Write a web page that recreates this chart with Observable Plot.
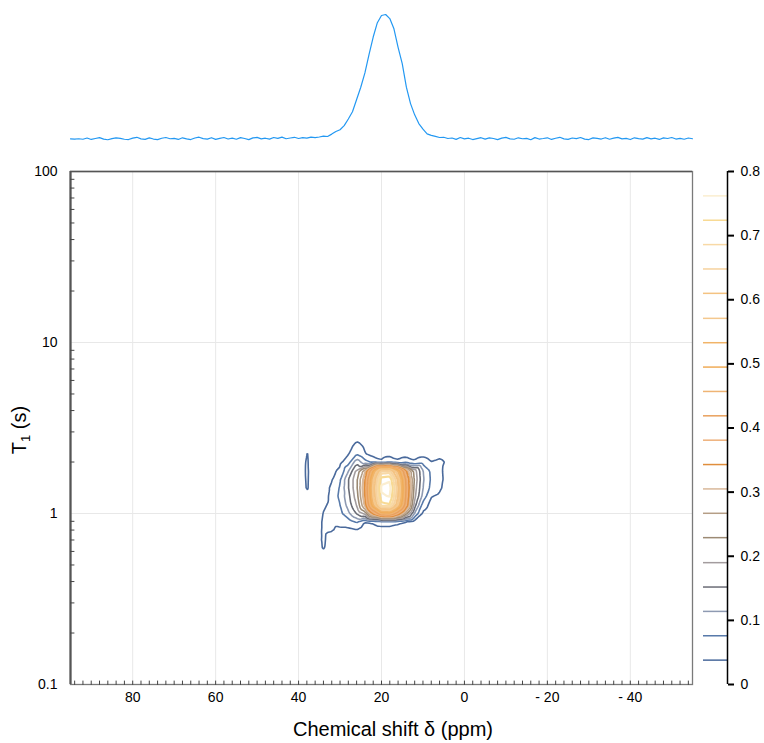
<!DOCTYPE html>
<html><head><meta charset="utf-8">
<script src="https://cdn.jsdelivr.net/npm/d3@7"></script>
<script src="https://cdn.jsdelivr.net/npm/@observablehq/plot@0.6"></script>
<style>
body{margin:0;background:#fff;}
#wrap{position:relative;width:764px;height:743px;background:#fff;overflow:hidden;}
#wrap svg{position:absolute;overflow:visible;max-width:none;background:transparent;}
</style></head><body><div id="wrap"></div>
<script>
// ---- Top 1D spectrum (intensity, arbitrary units; 1 ppm sampling from 95 to -55 ppm)
const specShift = d3.range(95, -56, -1);
const specIntensity = [
  1.6,1.4,1.7,1.2,2.4,1.0,1.9,2.8,1.3,0.7,1.8,2.6,2.1,1.2,0.9,2.3,3.1,1.6,1.1,2.5,
  1.4,0.8,2.2,2.9,1.7,2.0,1.0,2.6,1.5,0.9,2.4,3.2,1.8,1.3,2.7,1.1,2.0,2.9,1.4,2.3,
  1.2,2.8,1.9,0.8,2.5,3.0,1.6,2.2,1.3,2.9,2.0,3.3,1.7,2.4,3.1,1.9,2.7,2.3,3.2,2.8,
  3.4,4.3,3.9,6.2,8.8,10.5,14.5,21,28,40,52,66,84,101,115,122,123,119,109,91,
  75,52,36,25,16.5,11,6.5,5,4.0,2.9,3.1,1.9,
  2.4,1.1,2.9,1.6,2.2,0.9,1.8,2.7,1.3,2.5,1.9,0.8,2.3,3.0,1.5,1.2,2.6,1.7,2.1,0.7,
  2.8,1.4,1.9,2.6,1.0,2.2,3.1,1.6,1.1,2.4,1.8,2.9,1.3,0.9,2.5,2.0,1.4,2.7,1.2,2.3,
  3.0,1.5,2.1,0.9,2.6,1.8,1.3,2.8,1.6,2.2,1.0,2.5,1.9,2.9,1.4,2.0,1.2,2.4,1.7
];

// ---- 2D T1 map grid (columns: chemical shift in ppm, rows: T1 in s, top to bottom)
const gridShift = [40,38,36,34,32,30,28,26,24,22,20,18,16,14,12,10,8,6,4,2];
const gridT1 = [3.162,2.818,2.512,2.239,1.995,1.778,1.585,1.413,1.259,1.122,1.0,0.891,0.794,0.708,0.631,0.562,0.501];
const gridRows = [
  [0,0,0,0,0,0,0,0,0,0,0,0,0,0,0,0,0,0,0,0],
  [0,0,0,0,0,0,0.005,0.02,0.01,0,0,0,0,0,0,0,0,0,0,0],
  [0,0.01,0,0,0,0.005,0.02,0.05,0.03,0.01,0.005,0.005,0.005,0.005,0.005,0.005,0.005,0.005,0,0],
  [0,0.042,0,0,0.01,0.015,0.035,0.07,0.04,0.02,0.015,0.02,0.015,0.02,0.02,0.025,0.015,0.02,0.01,0],
  [0,0.045,0,0.005,0.02,0.03,0.06,0.14,0.09,0.07,0.05,0.075,0.05,0.065,0.045,0.06,0.04,0.05,0.03,0],
  [0,0.046,0.005,0.01,0.03,0.045,0.11,0.20,0.29,0.49,0.655,0.66,0.53,0.34,0.21,0.115,0.067,0.048,0.02,0],
  [0,0.045,0.005,0.015,0.035,0.07,0.15,0.22,0.33,0.56,0.745,0.755,0.60,0.39,0.22,0.12,0.07,0.05,0.022,0],
  [0,0.044,0.005,0.02,0.045,0.08,0.15,0.22,0.34,0.58,0.77,0.78,0.62,0.40,0.21,0.114,0.065,0.046,0.016,0],
  [0,0.03,0.005,0.02,0.05,0.085,0.14,0.21,0.333,0.57,0.755,0.765,0.61,0.39,0.20,0.10,0.04,0.03,0.01,0],
  [0,0.01,0.005,0.03,0.05,0.075,0.13,0.19,0.31,0.53,0.71,0.72,0.57,0.37,0.17,0.06,0.025,0.01,0,0],
  [0,0,0.005,0.04,0.048,0.065,0.105,0.155,0.20,0.35,0.46,0.47,0.37,0.24,0.11,0.03,0.01,0,0,0],
  [0,0,0.01,0.045,0.045,0.05,0.055,0.08,0.035,0.046,0.062,0.062,0.05,0.032,0.02,0.01,0,0,0,0],
  [0,0,0.015,0.045,0.04,0.03,0.03,0.035,0.01,0.012,0.015,0.015,0.012,0.008,0.005,0,0,0,0,0],
  [0,0,0.02,0.044,0.02,0,0,0,0,0,0,0,0,0,0,0,0,0,0,0],
  [0,0,0.015,0.042,0.01,0,0,0,0,0,0,0,0,0,0,0,0,0,0,0],
  [0,0,0,0.015,0,0,0,0,0,0,0,0,0,0,0,0,0,0,0,0],
  [0,0,0,0,0,0,0,0,0,0,0,0,0,0,0,0,0,0,0,0]
];

// ---- Contour levels and colours
const levels = [0.038,0.076,0.114,0.152,0.190,0.229,0.267,0.305,0.343,0.381,0.419,0.457,0.495,0.533,0.571,0.610,0.648,0.686,0.724,0.762];
const levelColors = ["#4a6a9c","#587aaa","#8e9ab2","#6a6c76","#a39c9e","#9c8a74","#b59e86","#d9b89a","#e08e3c","#eeb07a",
                     "#e9a05c","#efb474","#f0ac58","#f1b468","#f4c88e","#f4c382","#f6d29e","#f8d9a6","#f8da94","#fbeed0"];

// ---- Ticks
const xMajor = [80,60,40,20,0,-20,-40];
const xMinor = d3.range(-54, 96, 2);
const yMajor = [0.1,1,10,100];
const yMinor = [0.2,0.3,0.4,0.5,0.6,0.7,0.8,0.9,2,3,4,5,6,7,8,9,20,30,40,50,60,70,80,90];
const barTicks = [0,0.1,0.2,0.3,0.4,0.5,0.6,0.7,0.8];

const font = '"Liberation Sans", Arial, sans-serif';
const tickShape = {draw(context, l) { context.moveTo(0, 0); context.lineTo(0, -l); }};
const fmtShift = d => d < 0 ? "- " + Math.abs(d) : String(d);
const colorScale = {type: "linear", domain: levels, range: levelColors};

// grid samples as points (interpolated in screen space, so the log T1 axis is respected)
const gridPoints = gridRows.flatMap((row, i) => row.map((v, j) => ({shift: gridShift[j], t1: gridT1[i], v})));
const outerLevels = levels.slice(0, 7);
const innerLevels = levels.slice(7);

const wrap = document.getElementById("wrap");

// Top spectrum
const spec = Plot.plot({
  width: 764, height: 150, marginLeft: 70, marginRight: 72, marginTop: 14, marginBottom: 13,
  style: {fontFamily: font, background: "transparent"},
  x: {domain: [95, -55], axis: null},
  y: {domain: [2.9, 123], axis: null},
  marks: [
    Plot.line(specIntensity, {x: (d, i) => specShift[i], y: d => d, stroke: "#2398f2", strokeWidth: 1.2})
  ]
});
spec.style.left = "0px"; spec.style.top = "0px";
wrap.appendChild(spec);

// Main T1 map
const contourOpts = {x: "shift", y: "t1", value: "v", interpolate: "barycentric", stroke: "value", fill: "none"};
const main = Plot.plot({
  width: 700, height: 593, marginLeft: 70, marginRight: 8, marginTop: 21, marginBottom: 59,
  style: {fontFamily: font, fontSize: "14px", background: "transparent", color: "#000"},
  x: {domain: [95, -55]},
  y: {type: "log", domain: [0.1, 100]},
  color: colorScale,
  marks: [
    Plot.gridX(xMajor, {stroke: "#e8e8e8", strokeOpacity: 1}),
    Plot.gridY([1, 10], {stroke: "#e8e8e8", strokeOpacity: 1}),
    Plot.contour(gridPoints, {...contourOpts, thresholds: outerLevels, strokeWidth: 1.6}),
    Plot.contour(gridPoints, {...contourOpts, thresholds: innerLevels, strokeWidth: 2.2}),
    Plot.frame({stroke: "#7a7a7a", strokeWidth: 1.3}),
    Plot.ruleX([95], {stroke: "#555", strokeWidth: 2.2}),
    Plot.ruleY([100], {stroke: "#555", strokeWidth: 1.6}),
    Plot.vector(xMinor, {x: d => d, y: 0.1, length: 3.5, rotate: 0, anchor: "start", shape: tickShape, stroke: "#444", strokeWidth: 1}),
    Plot.vector(yMinor, {x: 95, y: d => d, length: 3.5, rotate: 90, anchor: "start", shape: tickShape, stroke: "#444", strokeWidth: 1}),
    Plot.axisX(xMajor, {tickSize: 0, tickPadding: 8, tickFormat: fmtShift, fontSize: 14, label: null}),
    Plot.axisY(yMajor, {tickSize: 0, tickPadding: 13, tickFormat: d => String(d), fontSize: 14, label: null})
  ]
});
main.style.left = "0px"; main.style.top = "150px";
const ms = d3.select(main);
ms.append("text").attr("x", 393).attr("y", 586).attr("text-anchor", "middle")
  .attr("font-size", 20).attr("font-family", font).attr("fill", "#000").text("Chemical shift δ (ppm)");
const yl = ms.append("text").attr("transform", "translate(26,280) rotate(-90)").attr("text-anchor", "middle")
  .attr("font-size", 20).attr("font-family", font).attr("fill", "#000");
yl.append("tspan").text("T");
yl.append("tspan").attr("font-size", 13).attr("dy", 4).text("1");
yl.append("tspan").attr("dy", -4).text(" (s)");
wrap.appendChild(main);

// Colour bar
const bar = Plot.plot({
  width: 72, height: 593, marginLeft: 11, marginRight: 37, marginTop: 21, marginBottom: 59,
  style: {fontFamily: font, fontSize: "14px", background: "transparent", color: "#000"},
  x: {domain: [0, 1], axis: null},
  y: {domain: [0, 0.8]},
  color: colorScale,
  marks: [
    Plot.ruleY(levels, {y: d => d, x1: 0, x2: 1, stroke: d => d, strokeWidth: 1.5}),
    Plot.ruleX([1], {stroke: "#000", strokeWidth: 1.5}),
    Plot.axisY(barTicks, {anchor: "right", tickSize: 6, tickPadding: 7, strokeWidth: 2,
      tickFormat: d => d === 0 ? "0" : d.toFixed(1), fontSize: 14, label: null})
  ]
});
bar.style.left = "692px"; bar.style.top = "150px";
wrap.appendChild(bar);
</script></body></html>
